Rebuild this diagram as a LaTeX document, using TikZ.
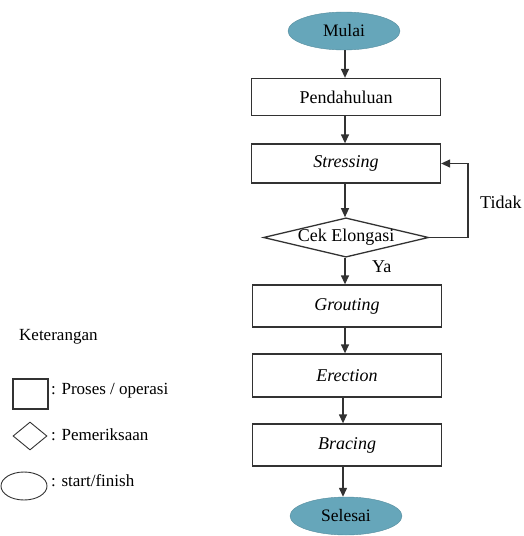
\documentclass[tikz,border=0pt]{standalone}
\usepackage{fontspec}
\setmainfont{Liberation Serif}
\usetikzlibrary{shapes.geometric,arrows.meta}
\definecolor{teal1}{RGB}{102,166,186}
\definecolor{ln}{RGB}{50,50,50}
\tikzset{
  procbox/.style={draw=ln,line width=1.3pt,minimum width=189pt,inner sep=0pt,font=\fontsize{18}{20}\selectfont},
  termnode/.style={ellipse,fill=teal1,draw=teal1!85!black,line width=0.4pt,minimum width=112pt,minimum height=38pt,inner sep=0pt,font=\fontsize{17.5}{20}\selectfont},
  decnode/.style={diamond,draw=ln,line width=1.3pt,minimum width=165pt,minimum height=39pt,inner sep=0pt,aspect=4.2,font=\fontsize{18}{20}\selectfont},
  arr/.style={draw=ln,line width=1.3pt,-{Triangle[length=9pt,width=8pt]}},
  lbl/.style={font=\fontsize{18}{20}\selectfont,inner sep=0pt},
  legtext/.style={font=\fontsize{17}{19}\selectfont,inner sep=0pt,anchor=west}
}
\begin{document}
\begin{tikzpicture}[x=1pt,y=-1pt]
\useasboundingbox (0,0) rectangle (523,536);
\node[termnode] (mulai) at (344,31) {Mulai};
\node[procbox,minimum height=37pt] (pend) at (346,97) {Pendahuluan};
\node[procbox,minimum height=39pt] (stress) at (346,163.5) {\textit{Stressing}};
\node[decnode] (cek) at (346,237.5) {Cek Elongasi};
\node[procbox,minimum height=42pt] (grout) at (347,306) {\textit{Grouting}};
\node[procbox,minimum height=43pt] (erect) at (347,375.5) {\textit{Erection}};
\node[procbox,minimum height=42pt] (brace) at (347,445) {\textit{Bracing}};
\node[termnode] (selesai) at (346,516) {Selesai};
\coordinate (loopb) at (468,237.5);
\coordinate (loopt) at (468,163.5);
\draw[arr] (mulai.south -| 345,0) -- (pend.north -| 345,0);
\draw[arr] (pend.south -| 345,0) -- (stress.north -| 345,0);
\draw[arr] (stress.south -| 345,0) -- (cek.north -| 345,0);
\draw[arr] (cek.south -| 345,0) -- (grout.north -| 345,0);
\draw[arr] (grout.south -| 345,0) -- (erect.north -| 345,0);
\draw[arr] (erect.south -| 343,0) -- (brace.north -| 343,0);
\draw[arr] (brace.south -| 343,0) -- (selesai.north -| 343,0);
\draw[arr] (cek.east) -- (loopb) -- (loopt) -- (stress.east);
\node[lbl,anchor=west] (tidak) at (480,202) {Tidak};
\node[lbl,anchor=west] (ya) at (372,267) {Ya};
% legend
\node[legtext] (ket) at (19,337) {Keterangan};
\node[draw=ln,line width=1.3pt,minimum width=35pt,minimum height=30pt,inner sep=0pt] (lbox) at (30.5,394) {};
\node[legtext] (lboxt) at (51,391) {: Proses / operasi};
\node[diamond,draw=ln,line width=0.9pt,minimum width=34pt,minimum height=28pt,inner sep=0pt,aspect=1.2] (ldia) at (30,436) {};
\node[legtext] (ldiat) at (51,435) {: Pemeriksaan};
\node[ellipse,draw=ln,line width=0.9pt,minimum width=46pt,minimum height=28pt,inner sep=0pt] (lell) at (24,486) {};
\node[legtext] (lellt) at (51,481) {: start/finish};
\end{tikzpicture}
\end{document}
